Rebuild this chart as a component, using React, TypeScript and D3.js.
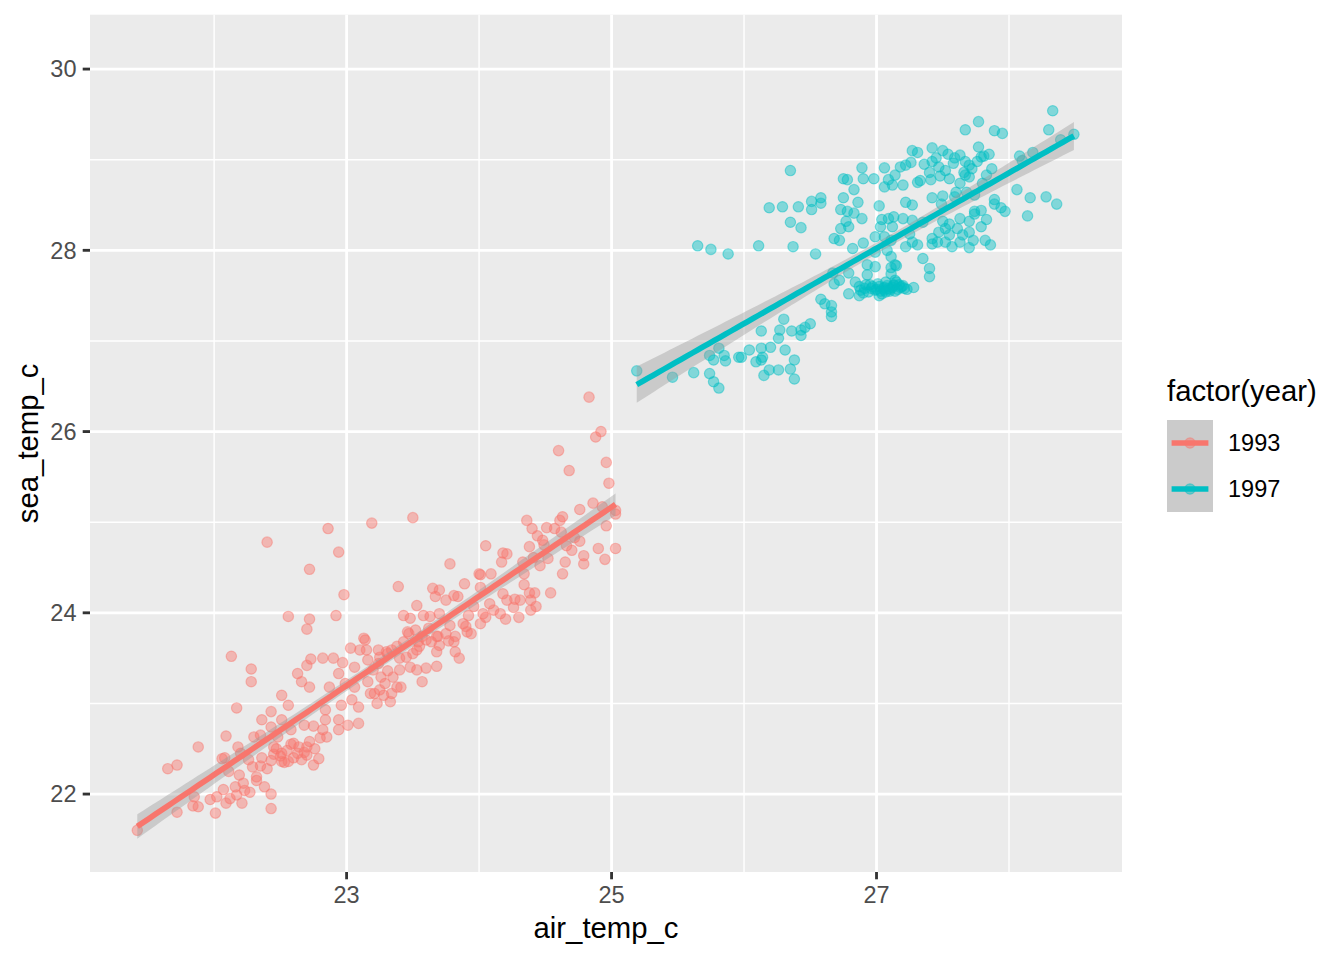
import React from "react";
import * as d3 from "d3";

// ---------- data (air_temp_c, sea_temp_c) ----------
const pts1993: [number, number][] = [
  [22.13,23.52],[22.28,23.38],[22.28,23.24],[22.17,22.95],[21.88,22.52],[22.09,22.64],[21.65,22.28],[21.72,22.32],[21.42,21.60],[21.72,21.80],
  [21.84,21.87],[21.88,21.86],[21.85,21.97],[21.97,21.94],[22.01,21.79],[22.09,21.90],[22.17,21.99],[22.21,21.90],[22.23,22.04],[22.43,22.00],
  [22.43,21.84],[22.06,22.39],[22.08,22.40],[22.11,22.25],[22.19,22.21],[22.18,22.52],[22.20,22.45],[22.26,22.38],[22.29,22.30],[22.32,22.19],
  [22.35,22.31],[22.30,22.63],[22.35,22.65],[22.36,22.82],[22.43,22.91],[22.51,22.82],[22.43,22.74],[22.48,22.63],[22.45,22.52],[22.51,22.45],
  [22.43,22.37],[22.51,22.36],[22.56,22.36],[22.60,22.56],[22.63,22.45],[22.70,22.52],[22.70,22.43],[22.79,22.39],[22.75,22.32],[22.58,22.71],
  [22.68,22.76],[22.75,22.75],[22.56,22.98],[22.51,23.09],[22.72,23.18],[22.66,23.24],[22.63,23.33],[22.70,23.42],[22.73,23.49],[22.82,23.50],
  [22.90,23.50],[22.97,23.45],[22.94,23.33],[22.87,23.18],[22.84,22.93],[22.84,22.82],[22.82,22.71],[22.85,22.63],[22.94,22.82],[22.94,22.71],
  [23.01,22.76],[23.09,22.78],[22.96,22.98],[23.04,23.04],[23.09,22.96],[22.99,23.22],[23.06,23.18],[23.03,23.61],[23.10,23.59],[23.06,23.40],
  [22.40,24.78],[22.86,24.93],[23.19,24.99],[23.50,25.05],[22.94,24.67],[22.72,24.48],[22.98,24.20],[23.78,24.54],[23.39,24.29],[22.56,23.96],
  [22.72,23.93],[22.70,23.82],[22.92,23.97],[23.13,23.72],[23.47,23.77],[23.43,23.97],[23.48,23.94],[23.53,24.08],[23.58,23.97],[23.65,24.27],
  [23.70,24.25],[23.67,24.18],[23.75,24.14],[23.81,24.19],[23.84,24.18],[23.89,24.32],[23.96,24.07],[23.92,23.97],[23.88,23.88],[23.91,23.79],
  [23.78,23.86],[23.70,23.99],[23.63,23.96],[24.00,24.43],[23.69,23.74],[23.82,23.74],[23.60,23.70],
  [23.14,23.70],[23.15,23.59],[23.16,23.48],[23.25,23.51],[23.31,23.55],[23.34,23.59],[23.38,23.63],[23.43,23.68],[23.40,23.50],[23.45,23.51],
  [23.50,23.55],[23.53,23.59],[23.54,23.68],[23.48,23.40],[23.53,23.37],[23.60,23.39],[23.57,23.24],[23.68,23.41],[23.40,23.37],[23.35,23.29],
  [23.31,23.36],[23.26,23.29],[23.29,23.22],[23.25,23.15],[23.28,23.09],[23.34,23.11],[23.38,23.18],[23.41,23.18],[23.23,23.00],[23.21,23.11],
  [23.18,23.11],[23.16,23.24],[23.20,23.37],[23.24,23.44],[23.33,23.02],[23.30,23.57],[23.24,23.59],[23.55,23.63],[23.68,23.57],[23.82,23.57],
  [23.85,23.50],[23.64,23.68],[23.70,23.64],[23.77,23.69],[23.46,23.79],[23.52,23.81],[23.57,23.74],[23.62,23.83],[23.68,23.74],[23.75,23.77],
  [23.81,23.68],[23.90,23.85],[23.94,23.77],[24.01,23.88],
  [24.83,26.38],[24.92,26.00],[24.88,25.94],[24.60,25.79],[24.68,25.57],[24.96,25.66],[24.98,25.43],[24.86,25.21],[24.93,25.17],[25.03,25.13],
  [25.03,25.09],[24.96,24.96],[24.76,25.14],[24.63,25.06],[24.61,25.02],[24.36,25.02],[24.40,24.93],[24.44,24.85],[24.51,24.94],[24.57,24.93],
  [24.62,24.89],[24.48,24.80],[24.49,24.75],[24.38,24.73],[24.05,24.74],[24.18,24.66],[24.21,24.65],[24.17,24.56],[24.33,24.56],[24.41,24.61],
  [24.46,24.52],[24.52,24.60],[24.66,24.74],[24.70,24.69],[24.65,24.56],[24.72,24.83],[24.76,24.79],[24.79,24.63],[24.79,24.54],[24.90,24.71],
  [24.95,24.59],[25.03,24.71],[24.63,24.43],[24.01,24.42],[24.09,24.43],[24.34,24.43],[24.01,24.28],[24.18,24.21],[24.34,24.31],[24.38,24.22],
  [24.42,24.22],[24.54,24.22],[24.21,24.14],[24.27,24.15],[24.31,24.14],[24.26,24.06],[24.39,24.14],[24.43,24.07],[24.39,24.03],[24.08,24.10],
  [24.11,24.03],[24.16,23.99],[24.03,23.99],[24.05,23.95],[24.20,23.93],[24.30,23.95],
  [22.50,22.42],[22.55,22.48],[22.60,22.40],[22.64,22.52],[22.68,22.46],[22.72,22.58],[22.76,22.50],[22.58,22.55],[22.47,22.50],[22.53,22.35],
  [22.40,22.28],[22.36,22.40],[22.80,22.62],[22.66,22.38],[22.45,22.44],
  [22.02,21.97],[22.07,22.05],[22.12,21.95],[22.16,22.08],[22.22,22.12],[22.27,22.02],[22.32,22.15],[22.38,22.08],
];

const pts1997: [number, number][] = [
  [25.19,26.67],[25.46,26.60],[25.62,26.65],[25.74,26.64],[25.77,26.55],[25.81,26.48],[25.74,26.84],[25.77,26.79],[25.81,26.92],[25.85,26.84],
  [25.86,26.78],[25.96,26.82],[25.98,26.82],[26.04,26.90],[26.09,26.77],[26.13,26.92],[26.14,26.82],[26.13,26.79],[26.15,26.62],[26.19,26.68],
  [26.20,26.93],[26.13,27.11],[25.65,28.05],[25.75,28.01],[25.88,27.96],[26.11,28.05],[26.26,26.68],[26.31,26.90],[26.35,26.69],[26.38,26.58],
  [26.38,26.79],[26.26,27.03],[26.27,27.12],[26.30,27.24],[26.36,27.11],[26.43,27.06],[26.43,27.12],[26.46,27.15],[26.50,27.19],[26.19,28.47],
  [26.35,28.88],[26.29,28.48],[26.41,28.48],[26.35,28.31],[26.43,28.25],[26.37,28.04],[26.54,27.96],[26.51,28.54],[26.51,28.45],[26.58,28.58],
  [26.58,28.52],[26.75,28.79],[26.78,28.78],[26.89,28.91],[26.90,28.79],[26.98,28.79],[26.83,28.67],[26.75,28.58],[26.86,28.53],[26.78,28.43],
  [26.83,28.41],[26.89,28.35],[26.77,28.32],[26.73,28.24],[26.79,28.26],[26.68,28.13],[26.72,28.11],[26.82,28.02],[26.90,28.08],[27.02,28.49],
  [26.99,28.15],[27.03,28.26],[27.04,28.34],[27.09,28.35],[27.13,28.37],[27.12,28.26],[27.06,28.15],[27.11,28.11],[27.08,28.00],[26.99,27.98],
  [27.11,27.93],[27.06,28.91],[27.06,28.70],[27.12,28.72],[27.09,28.78],[27.14,28.83],[26.93,27.84],[26.99,27.82],[26.93,27.73],[26.79,27.75],
  [26.84,27.65],[26.87,27.60],[26.92,27.62],[26.96,27.58],[26.99,27.56],[27.02,27.60],[27.06,27.56],[27.09,27.58],[27.13,27.62],[27.14,27.67],
  [27.07,27.65],[27.11,27.74],[27.14,27.84],[26.87,27.50],[27.02,27.50],[26.72,27.67],[26.68,27.63],[26.67,27.75],[26.58,27.46],[26.61,27.41],
  [26.66,27.39],[26.66,27.32],[26.66,27.27],[26.79,27.52],[26.73,28.45],
  [28.33,29.54],[28.30,29.33],[28.39,29.22],[28.49,29.28],[27.67,29.33],[27.77,29.42],[27.89,29.32],[27.95,29.29],[27.77,29.14],[27.79,29.03],
  [27.81,29.04],[27.42,29.13],[27.50,29.10],[27.54,29.06],[27.59,29.02],[27.27,29.10],[27.31,29.08],[27.26,28.97],[27.22,28.94],[27.18,28.92],
  [27.42,28.98],[27.47,28.92],[27.67,28.98],[27.70,28.94],[27.87,28.90],[27.83,28.83],[27.40,28.86],[27.41,28.78],[27.55,28.79],[27.67,28.83],
  [27.63,28.74],[27.70,28.81],[27.20,28.72],[27.31,28.75],[27.33,28.77],[27.80,28.74],[28.08,29.04],[28.10,28.99],[28.18,29.08],[28.06,28.67],
  [28.16,28.58],[28.28,28.59],[28.36,28.51],[28.14,28.38],[27.42,28.58],[27.50,28.60],[27.49,28.51],[27.59,28.59],[27.60,28.64],[27.68,28.64],
  [27.74,28.61],[27.89,28.56],[27.89,28.51],[27.94,28.47],[27.97,28.43],[27.74,28.43],[27.79,28.44],[27.83,28.34],[27.79,28.26],[27.70,28.32],
  [27.74,28.40],[27.22,28.53],[27.27,28.50],[27.20,28.35],[27.27,28.33],[27.35,28.31],[27.50,28.32],[27.55,28.29],[27.63,28.35],[27.61,28.24],
  [27.52,28.24],[27.47,28.20],[27.55,28.17],[27.65,28.17],[27.70,28.20],[27.73,28.11],[27.82,28.11],[27.86,28.06],[27.70,28.03],[27.63,28.09],
  [27.52,28.09],[27.46,28.09],[27.42,28.13],[27.25,28.18],[27.27,28.09],[27.22,28.04],[27.31,28.06],[27.35,27.91],[27.42,28.07],[27.57,28.04],
  [27.40,27.80],[27.40,27.71],[27.28,27.59],[27.20,27.61],[27.15,27.65],[27.13,27.61],[27.18,27.59],[27.23,27.57],[27.10,27.57],[27.06,27.59],
  [27.11,27.81],[27.15,27.83],
  [26.88,27.56],[26.91,27.58],[26.94,27.54],[26.97,27.60],[27.00,27.57],[27.03,27.55],[27.05,27.58],[27.08,27.61],[27.10,27.55],[27.12,27.59],
  [27.16,27.57],[27.19,27.60],[26.95,27.62],[27.01,27.63],[27.04,27.52],[27.07,27.54],[26.90,27.53],[27.14,27.55],[27.17,27.62],[27.21,27.58],
  [27.36,28.95],[27.45,29.02],[27.52,28.88],[27.58,28.96],[27.63,29.05],[27.72,28.90],[27.76,28.98],[27.85,29.06],[27.48,28.82],[27.66,28.86],
];

const years = ["1993", "1997"];
const yearColors = ["#F8766D", "#00BFC4"];
const series = [pts1993, pts1997];

const xTicksMajor = [23, 25, 27];
const xTicksMinor = [22, 24, 26, 28];
const yTicksMajor = [22, 24, 26, 28, 30];
const yTicksMinor = [23, 25, 27, 29];

const xDomain = [21.063, 28.853];
const yDomain = [21.14, 30.6];

// ---------- layout ----------
const W = 1344, H = 960;
const PL = 90, PR = 1122, PT = 14.7, PB = 872;
const FONT = "'Liberation Sans', Arial, Helvetica, sans-serif";

const x = d3.scaleLinear().domain(xDomain).range([PL, PR]);
const y = d3.scaleLinear().domain(yDomain).range([PB, PT]);

function lmFit(pts: [number, number][]) {
  const n = pts.length;
  const mx = d3.mean(pts, (d) => d[0])!;
  const my = d3.mean(pts, (d) => d[1])!;
  let sxx = 0, sxy = 0;
  for (const [a, b] of pts) { sxx += (a - mx) ** 2; sxy += (a - mx) * (b - my); }
  const b1 = sxy / sxx;
  const b0 = my - b1 * mx;
  let sse = 0;
  for (const [a, b] of pts) sse += (b - (b0 + b1 * a)) ** 2;
  const s = Math.sqrt(sse / (n - 2));
  const t = 1.97;
  const [lo, hi] = d3.extent(pts, (d) => d[0]) as [number, number];
  const grid = d3.range(80).map((i) => lo + ((hi - lo) * i) / 79);
  return grid.map((gx) => {
    const fit = b0 + b1 * gx;
    const se = s * Math.sqrt(1 / n + (gx - mx) ** 2 / sxx);
    return { x: gx, fit, lo: fit - t * se, hi: fit + t * se };
  });
}

export default function App() {
  const fits = series.map(lmFit);
  const line = d3.line<{ x: number; fit: number }>().x((d) => x(d.x)).y((d) => y(d.fit));
  const area = d3
    .area<{ x: number; lo: number; hi: number }>()
    .x((d) => x(d.x))
    .y0((d) => y(d.lo))
    .y1((d) => y(d.hi));

  return (
    <svg width={W} height={H} style={{ position: "absolute", left: 0, top: 0, background: "#fff" }} fontFamily={FONT}>
      <defs>
        <clipPath id="panel">
          <rect x={PL} y={PT} width={PR - PL} height={PB - PT} />
        </clipPath>
      </defs>
      <rect x={PL} y={PT} width={PR - PL} height={PB - PT} fill="#EBEBEB" />
      {xTicksMinor.map((t) => (
        <line key={"xm" + t} x1={x(t)} x2={x(t)} y1={PT} y2={PB} stroke="#fff" strokeWidth={1.42} />
      ))}
      {yTicksMinor.map((t) => (
        <line key={"ym" + t} x1={PL} x2={PR} y1={y(t)} y2={y(t)} stroke="#fff" strokeWidth={1.42} />
      ))}
      {xTicksMajor.map((t) => (
        <line key={"xM" + t} x1={x(t)} x2={x(t)} y1={PT} y2={PB} stroke="#fff" strokeWidth={2.84} />
      ))}
      {yTicksMajor.map((t) => (
        <line key={"yM" + t} x1={PL} x2={PR} y1={y(t)} y2={y(t)} stroke="#fff" strokeWidth={2.84} />
      ))}
      <g clipPath="url(#panel)">
        {series.map((pts, si) => (
          <g key={"p" + si}>
            {pts.map((d, i) => (
              <circle
                key={i}
                cx={x(d[0])}
                cy={y(d[1])}
                r={5.2}
                fill={yearColors[si]}
                fillOpacity={0.45}
                stroke={yearColors[si]}
                strokeOpacity={0.45}
                strokeWidth={1.2}
              />
            ))}
          </g>
        ))}
        {fits.map((f, si) => (
          <g key={"f" + si}>
            <path d={area(f) || ""} fill="#999999" fillOpacity={0.4} />
            <path d={line(f) || ""} fill="none" stroke={yearColors[si]} strokeWidth={5.7} />
          </g>
        ))}
      </g>
      {/* axes */}
      {xTicksMajor.map((t) => (
        <g key={"xt" + t}>
          <line x1={x(t)} x2={x(t)} y1={PB} y2={PB + 7.3} stroke="#333333" strokeWidth={2.84} />
          <text x={x(t)} y={903} textAnchor="middle" fontSize={23.5} fill="#4D4D4D">
            {t}
          </text>
        </g>
      ))}
      {yTicksMajor.map((t) => (
        <g key={"yt" + t}>
          <line x1={PL - 7.3} x2={PL} y1={y(t)} y2={y(t)} stroke="#333333" strokeWidth={2.84} />
          <text x={PL - 13.5} y={y(t) + 8.3} textAnchor="end" fontSize={23.5} fill="#4D4D4D">
            {t}
          </text>
        </g>
      ))}
      <text x={(PL + PR) / 2} y={938} textAnchor="middle" fontSize={29.3} fill="#000">
        air_temp_c
      </text>
      <text
        transform={`translate(38,${(PT + PB) / 2}) rotate(-90)`}
        textAnchor="middle"
        fontSize={29.3}
        fill="#000"
      >
        sea_temp_c
      </text>
      {/* legend */}
      <text x={1167} y={401} fontSize={29.3} fill="#000">
        factor(year)
      </text>
      {years.map((yr, i) => {
        const ky = 420 + i * 46;
        return (
          <g key={"lg" + yr}>
            <rect x={1167} y={ky} width={46} height={46} fill="#CBCBCB" />
            <circle
              cx={1190}
              cy={ky + 23}
              r={5.2}
              fill={yearColors[i]}
              fillOpacity={0.45}
              stroke={yearColors[i]}
              strokeOpacity={0.45}
              strokeWidth={1.2}
            />
            <line x1={1171.6} x2={1208.4} y1={ky + 23} y2={ky + 23} stroke={yearColors[i]} strokeWidth={5.7} />
            <text x={1228} y={ky + 31.3} fontSize={23.5} fill="#000">
              {yr}
            </text>
          </g>
        );
      })}
    </svg>
  );
}
